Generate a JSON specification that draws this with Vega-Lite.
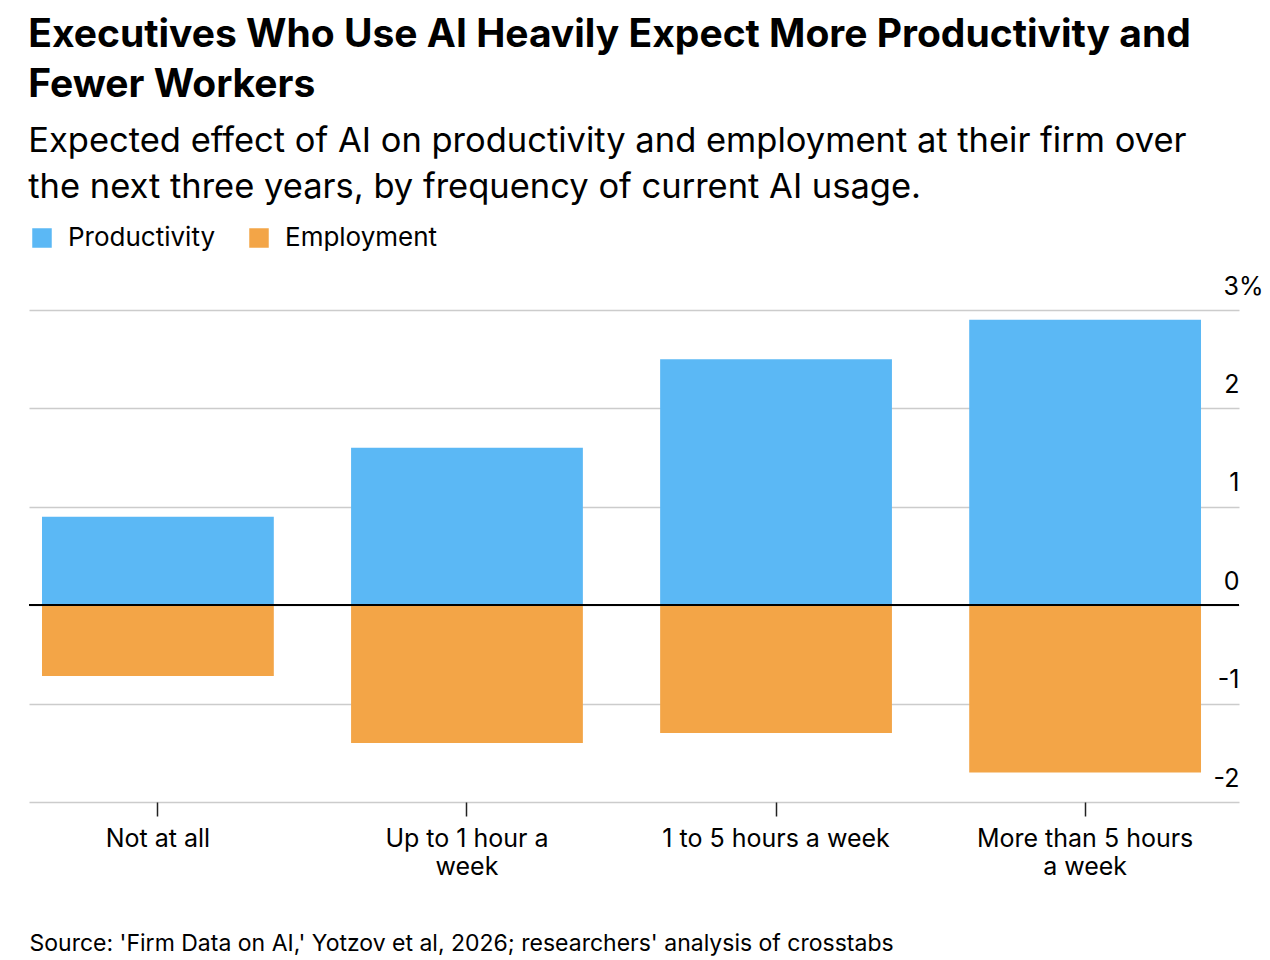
{
  "$schema": "https://vega.github.io/schema/vega-lite/v6.json",
  "width": 1210,
  "height": 492,
  "padding": {"left": 28, "top": 15, "right": 8, "bottom": 10},
  "background": "white",
  "title": {
    "text": ["Executives Who Use AI Heavily Expect More Productivity and", "Fewer Workers"],
    "subtitle": ["Expected effect of AI on productivity and employment at their firm over", "the next three years, by frequency of current AI usage."],
    "anchor": "start",
    "font": "Inter",
    "fontSize": 39,
    "fontWeight": "bold",
    "lineHeight": 50,
    "color": "#000000",
    "subtitleFont": "Inter",
    "subtitleFontSize": 34.5,
    "subtitleLineHeight": 46,
    "subtitleColor": "#000000",
    "subtitlePadding": 20,
    "offset": 21
  },
  "data": {
    "values": [
      {"usage": "Not at all", "measure": "Productivity", "value": 0.9},
      {"usage": "Not at all", "measure": "Employment", "value": -0.72},
      {"usage": "Up to 1 hour a week", "measure": "Productivity", "value": 1.6},
      {"usage": "Up to 1 hour a week", "measure": "Employment", "value": -1.4},
      {"usage": "1 to 5 hours a week", "measure": "Productivity", "value": 2.5},
      {"usage": "1 to 5 hours a week", "measure": "Employment", "value": -1.3},
      {"usage": "More than 5 hours a week", "measure": "Productivity", "value": 2.9},
      {"usage": "More than 5 hours a week", "measure": "Employment", "value": -1.7}
    ]
  },
  "layer": [
    {
      "mark": {"type": "bar"},
      "encoding": {
        "x": {
          "field": "usage",
          "type": "nominal",
          "sort": null,
          "scale": {"paddingInner": 0.25, "paddingOuter": 0.0825, "align": 0.255},
          "title": "Source: 'Firm Data on AI,' Yotzov et al, 2026; researchers' analysis of crosstabs",
          "axis": {
            "orient": "bottom",
            "domain": false,
            "ticks": true,
            "tickSize": 14,
            "tickColor": "#222222",
            "tickWidth": 1.5,
            "labelAngle": 0,
            "labelFont": "Inter",
            "labelFontSize": 25,
            "labelColor": "#000000",
            "labelPadding": 10,
            "labelLineHeight": 28,
            "labelLimit": 400,
            "labelExpr": "datum.label == 'Up to 1 hour a week' ? ['Up to 1 hour a', 'week'] : datum.label == 'More than 5 hours a week' ? ['More than 5 hours', 'a week'] : datum.label",
            "titleFont": "Inter",
            "titleFontSize": 23,
            "titleFontWeight": "normal",
            "titleColor": "#000000",
            "titleAnchor": "start",
            "titleAlign": "left",
            "titlePadding": 53
          }
        },
        "y": {
          "field": "value",
          "type": "quantitative",
          "stack": "zero",
          "scale": {"domain": [-2, 3], "nice": false},
          "title": null,
          "axis": {
            "orient": "right",
            "values": [-2, -1, 0, 1, 2, 3],
            "grid": true,
            "gridColor": "#cccccc",
            "gridWidth": 1.5,
            "domain": false,
            "ticks": false,
            "tickSize": 0,
            "labelAlign": "right",
            "labelBaseline": "bottom",
            "labelOffset": -11,
            "labelPadding": {"condition": {"test": "datum.value === 3", "value": 24}, "value": 0},
            "labelFont": "Inter",
            "labelFontSize": 25,
            "labelColor": "#000000",
            "labelExpr": "datum.value === 3 ? '3%' : '' + datum.value"
          }
        },
        "color": {
          "field": "measure",
          "type": "nominal",
          "sort": ["Productivity", "Employment"],
          "scale": {"domain": ["Productivity", "Employment"], "range": ["#5BB8F5", "#F3A547"]},
          "legend": {
            "orient": "top",
            "direction": "horizontal",
            "title": null,
            "padding": 0,
            "symbolType": "square",
            "symbolSize": 380,
            "symbolStrokeWidth": 0,
            "labelFont": "Inter",
            "labelFontSize": 26,
            "labelColor": "#000000",
            "labelOffset": 13,
            "columnPadding": 30,
            "offset": 59
          }
        }
      }
    },
    {
      "mark": {"type": "rule", "color": "#000000", "strokeWidth": 1.5},
      "encoding": {"y": {"datum": 0}}
    }
  ],
  "config": {
    "view": {"stroke": null}
  }
}
